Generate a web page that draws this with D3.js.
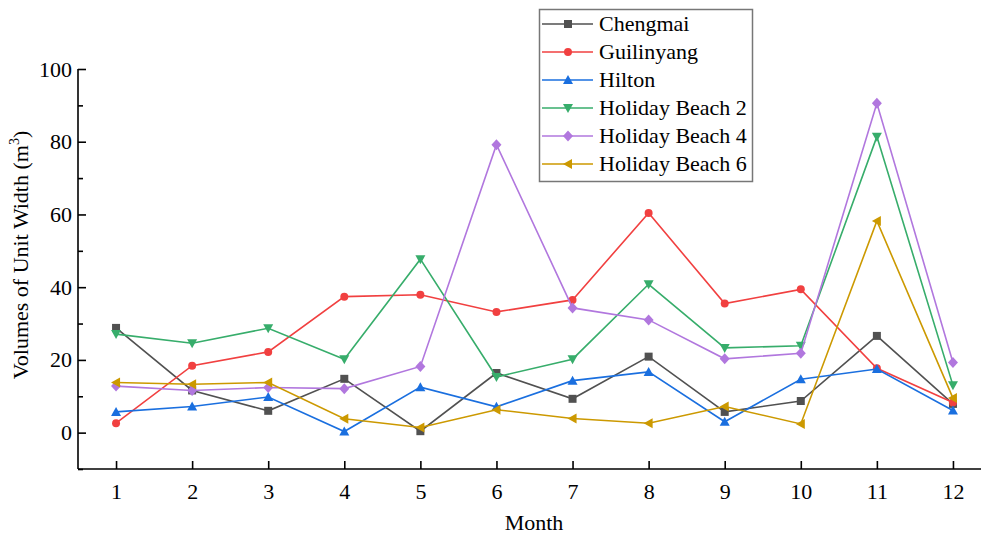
<!DOCTYPE html>
<html>
<head>
<meta charset="utf-8">
<script src="https://cdn.jsdelivr.net/npm/d3@7"></script>
<style>
  html, body { margin: 0; padding: 0; background: #fff; }
  svg { display: block; }
  svg text { font-family: "Liberation Serif", "Times New Roman", serif !important; fill: #000; }
</style>
</head>
<body>
<svg id="chart" width="981" height="535"></svg>
<script>
// Monthly volumes of unit width (m³) at six beach sites
const months = [1, 2, 3, 4, 5, 6, 7, 8, 9, 10, 11, 12];
const seriesNames = ["Chengmai", "Guilinyang", "Hilton", "Holiday Beach 2", "Holiday Beach 4", "Holiday Beach 6"];
const chengmai      = [28.8, 11.6, 6.0, 14.8, 0.4, 16.4, 9.3, 20.9, 5.7, 8.7, 26.6, 7.9];
const guilinyang    = [2.6, 18.4, 22.2, 37.4, 37.9, 33.2, 36.5, 60.4, 35.5, 39.4, 17.7, 8.3];
const hilton        = [5.7, 7.2, 9.8, 0.3, 12.5, 7.1, 14.3, 16.7, 3.0, 14.7, 17.5, 6.1];
const holidayBeach2 = [27.1, 24.6, 28.7, 20.2, 47.7, 15.3, 20.2, 40.8, 23.3, 23.9, 81.4, 13.0];
const holidayBeach4 = [12.8, 11.6, 12.4, 12.1, 18.2, 79.2, 34.3, 31.0, 20.3, 21.8, 90.6, 19.3];
const holidayBeach6 = [13.8, 13.3, 13.8, 3.8, 1.4, 6.3, 3.9, 2.6, 7.2, 2.4, 58.2, 9.5];
const yTicks = [0, 20, 40, 60, 80, 100];
const yMinorTicks = [-10, 10, 30, 50, 70, 90];

const colors = ["#515151", "#F14040", "#1A6FDF", "#37AD6B", "#B177DE", "#CC9900"];
const seriesValues = [chengmai, guilinyang, hilton, holidayBeach2, holidayBeach4, holidayBeach6];

const svg = d3.select("#chart");
const plotLeft = 78, plotBottom = 469, plotTop = 69;

const x = d3.scaleLinear().domain([0.5, 12.5]).range([plotLeft, 991]);
const y = d3.scaleLinear().domain([-10, 100]).range([plotBottom, plotTop]);

// marker shapes: square, circle, up triangle, down triangle, diamond, left triangle
function markerPath(kind) {
  switch (kind) {
    case 0: return "M-4,-4H4V4H-4Z";
    case 1: return d3.symbol(d3.symbolCircle, 50)();
    case 2: return "M0,-5L5,4H-5Z";
    case 3: return "M0,5L5,-4H-5Z";
    case 4: return "M0,-5.5L5,0L0,5.5L-5,0Z";
    case 5: return "M-5,0L4,-5V5Z";
  }
}

// axes
const gx = svg.append("g").attr("transform", `translate(0,${plotBottom})`)
  .call(d3.axisBottom(x).tickValues(months).tickSize(-8).tickPadding(14).tickFormat(d3.format("d")));
const gy = svg.append("g").attr("transform", `translate(${plotLeft},0)`)
  .call(d3.axisLeft(y).tickValues(yTicks).tickSize(-8).tickPadding(6));
const gm = svg.append("g").attr("transform", `translate(${plotLeft},0)`)
  .call(d3.axisLeft(y).tickValues(yMinorTicks).tickSize(-5).tickFormat(""));
gm.select(".domain").remove();

[gx, gy, gm].forEach(g => {
  g.select(".domain").attr("stroke", "#000").attr("stroke-width", 1.6);
  g.selectAll(".tick line").attr("stroke", "#000").attr("stroke-width", 1.6);
  g.selectAll(".tick text").attr("font-size", 22);
});
gy.select(".domain").attr("d", `M0,${y(-10)}V${y(100)}`);
gx.select(".domain").attr("d", `M${plotLeft},0H981`);

// axis titles
svg.append("text").attr("x", 534).attr("y", 530).attr("text-anchor", "middle")
  .attr("font-size", 22).text("Month");
const yt = svg.append("text").attr("transform", "translate(28,255) rotate(-90)")
  .attr("text-anchor", "middle").attr("font-size", 22);
yt.append("tspan").text("Volumes of Unit Width (m");
yt.append("tspan").attr("font-size", 14).attr("dy", -9).text("3");
yt.append("tspan").attr("dy", 9).text(")");

// series lines and markers
const line = d3.line().x((d, i) => x(months[i])).y(d => y(d));
seriesValues.forEach((vals, s) => {
  const g = svg.append("g");
  g.append("path").datum(vals).attr("d", line)
    .attr("fill", "none").attr("stroke", colors[s]).attr("stroke-width", 1.6);
  g.selectAll("path.m").data(vals).join("path").attr("class", "m")
    .attr("d", markerPath(s))
    .attr("transform", (d, i) => `translate(${x(months[i])},${y(d)})`)
    .attr("fill", colors[s]);
});

// legend
const lg = svg.append("g");
lg.append("rect").attr("x", 539.5).attr("y", 9.5).attr("width", 213).attr("height", 172)
  .attr("fill", "#fff").attr("stroke", "#777").attr("stroke-width", 1.5);
seriesNames.forEach((name, s) => {
  const cy = 24 + s * 28;
  lg.append("line").attr("x1", 542).attr("x2", 593).attr("y1", cy).attr("y2", cy)
    .attr("stroke", colors[s]).attr("stroke-width", 1.6);
  lg.append("path").attr("d", markerPath(s)).attr("transform", `translate(568,${cy})`)
    .attr("fill", colors[s]);
  lg.append("text").attr("x", 599).attr("y", cy + 7).attr("font-size", 22).text(name);
});
</script>
</body>
</html>
